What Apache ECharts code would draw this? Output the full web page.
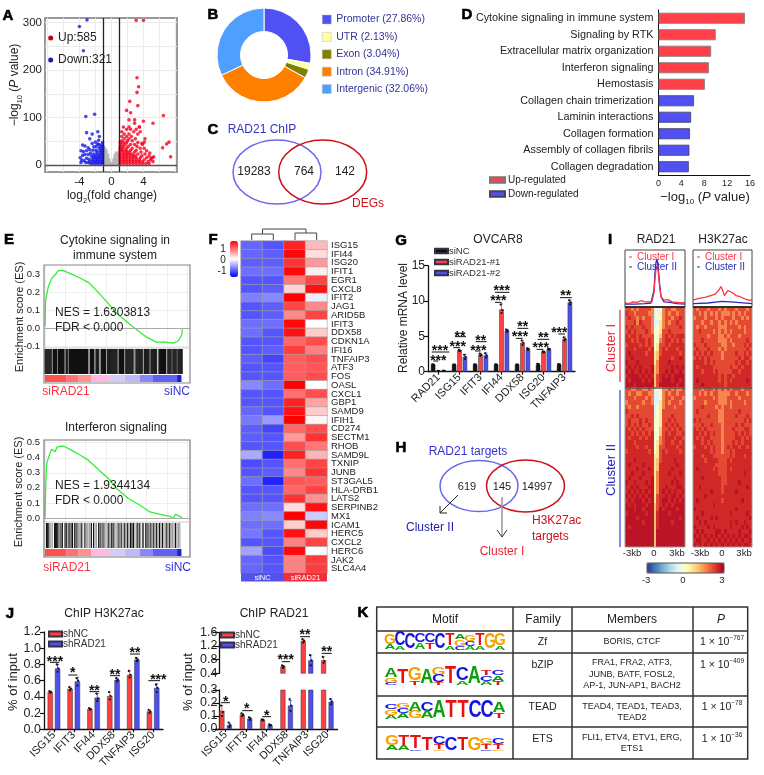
<!DOCTYPE html>
<html><head><meta charset="utf-8">
<style>html,body{margin:0;padding:0;background:#fff}#c{width:764px;height:775px}</style>
<script src="https://cdn.jsdelivr.net/npm/echarts@6/dist/echarts.min.js"></script></head>
<body><div id="c"></div>
<script>
// ---------- A volcano (rows: [y, [x...]]) ----------
const upOutliers=[[3.1,305],[4,305],[3.2,184],[3.4,165],[3.2,153],[2.3,134],[3.3,125],[1.9,115],[6.5,104],[2.4,110],[2.2,95],[2.9,95],[2.9,88],[4,92],[3.5,80],[5.2,88],[7.2,48],[6.9,44],[6.4,36],[7.4,17],[5.3,17],[5,14],[4.8,25],[4.1,48],[3.8,45],[4.4,30]];
const upRows=[[3,[1.1,1.5,1.9,2.3,2.7,3.1,3.5,3.9,4.3,4.7]],[7,[1.1,1.5,1.9,2.3,2.7,3.1,3.5,3.9,4.6,5.2]],[11,[1.1,1.5,1.9,2.3,2.7,3.1,3.5,4.1,4.9]],[15,[1.1,1.5,1.9,2.3,2.7,3.1,3.6,4.4,5.1]],[19,[1.1,1.5,1.9,2.3,2.7,3,3.8,4.7]],[23,[1.1,1.5,1.9,2.3,2.6,3.3,4.2]],[27,[1.1,1.5,1.9,2.2,2.9,3.7]],[31,[1.1,1.4,1.8,2.4,3.1]],[35,[1.1,1.4,1.9,2.6,3.6,4.1]],[39,[1.1,1.5,2.1,3.2]],[43,[1.2,1.7,2.4,2.9,3.9]],[47,[1.1,1.5,1.9,3.3]],[51,[1.3,2,2.6]],[55,[1.6,2.2,3,4.2]],[60,[1.3,1.9,2.5]],[65,[1.6,2.2,3.3]],[70,[1.3,2.8,3.6]],[75,[1.9,2.4,3.1]],[80,[1.5,2.2,3.5]]];
const downOutliers=[[-3.05,306],[-4,292],[-3.5,241],[-2.1,107],[-3.2,102],[-1.7,70],[-3.1,68],[-2.4,65],[-1.5,60],[-2.7,55],[-1.6,52],[-3.6,42],[-3.3,40],[-2.9,36],[-2.4,45],[-2,48],[-1.7,44],[-2.2,38],[-3.8,30],[-3.5,28],[-3.1,30],[-2.7,32],[-3.3,22],[-3.6,20],[-3.9,15],[-2.9,22],[-2.6,25],[-3.7,10],[-3.4,9],[-3.8,5],[-3.1,14],[-2.8,12],[-3.2,5],[-2.9,5]];
const downRows=[[3,[-1.1,-1.4,-1.7,-2,-2.3,-2.6]],[7,[-1.1,-1.4,-1.7,-2,-2.3,-2.7]],[11,[-1.1,-1.4,-1.7,-2,-2.4]],[15,[-1.1,-1.4,-1.7,-2,-2.3]],[19,[-1.1,-1.4,-1.7,-2.1,-2.5]],[23,[-1.1,-1.4,-1.8,-2.2]],[27,[-1.1,-1.4,-1.8]],[31,[-1.1,-1.4,-1.9,-2.3]],[35,[-1.1,-1.5]],[39,[-1.1,-1.4,-1.9]],[43,[-1.2,-1.6]],[47,[-1.1]]];
const nsRows=[[3,[-1,-.85,-.7,-.55,-.4,-.25,-.1,.1,.25,.4,.55,.7,.85,1]],[7,[-1,-.8,-.6,-.45,-.3,.3,.45,.6,.8,1]],[11,[-1,-.8,-.6,-.45,-.3,.3,.45,.6,.8,1]],[15,[-1,-.8,-.6,-.45,.45,.6,.8,1]],[20,[-1,-.8,-.6,-.45,.45,.6,.8,1]],[25,[-1,-.8,-.6,.6,.8]],[30,[-1,-.8,-.65]],[35,[-1.05,-.85]],[40,[-1]]];
// ---------- B / C ----------
const pieNames=['Promoter (27.86%)','UTR (2.13%)','Exon (3.04%)','Intron (34.91%)','Intergenic (32.06%)'];
const pieValues=[27.86,2.13,3.04,34.91,32.06];
const pieColors=['#5050f5','#ffffa6','#808000','#ff8000','#4f9fff'];
// ---------- D ----------
const pathways=['Cytokine signaling in immune system','Signaling by RTK','Extracellular matrix organization','Interferon signaling','Hemostasis','Collagen chain trimerization','Laminin interactions','Collagen formation','Assembly of collagen fibrils','Collagen degradation'];
const upPath=[15.1,10,9.2,8.8,8.1,null,null,null,null,null];
const downPath=[null,null,null,null,null,6.2,5.7,5.5,5.4,5.3];
// ---------- E ----------
const gsea1=[[0,.01],[.46,.157],[2.3,.23],[4.6,.276],[6.9,.295],[9.2,.319],[12.6,.319],[17.2,.304],[23,.282],[29.9,.254],[35.6,.208],[42.5,.147],[49.4,.083],[57.5,.028],[63.2,-.009],[70.1,-.05],[77,-.079],[81.6,-.076],[88.5,-.083],[92,-.07],[94.3,-.037],[94.7,-.005]];
const gsea2=[[0,0],[.46,.207],[1.15,.362],[3.4,.429],[4.6,.456],[6.9,.44],[8.5,.473],[12.6,.478],[17.2,.456],[24.1,.418],[29.9,.384],[36.8,.322],[43.7,.262],[49.4,.196],[57.5,.129],[65.5,.084],[72.4,.04],[79.3,.024],[86.2,.011],[88.5,-.004],[90,.024],[93,.011],[94.7,-.004]];
const rug1Black=[0,.7,1.4,2.1,2.8,3.5,4.2,5.8,6.5,7.2,7.9,9.4,10.1,10.8,11.5,12.2,12.9,14.6,15.3,16.8,17.5,18.2,18.9,19.6,20.3,21,21.7,22.4,23.1,23.8,24.5,25.2,25.9,26.6,27.3,28,28.7,29.4,31.4,32.1,32.8,33.5,35.3,36,36.7,38.8,39.5,40.2,40.9,41.6,43.3,44,44.7,45.4,46.1,46.8,47.5,48.2,48.9,49.6,51.3,52,52.7,53.4,54.1,55.8,56.5,57.2,57.9,58.6,59.3,60,60.7,62.8,63.5,64.2,64.9,65.6,66.3,67,68.8,69.5,70.2,70.9,71.6,73.2,73.9,74.6,75.3,76,76.7,78.8,79.5,80.2,80.9,81.6,82.3,83,84.8,85.5,86.2,86.9,88.3,89,89.7,90.4,91.8,92.5,93.2,93.9,94.5];
const rug1Grey=[4.9,8.6,13.6,16,30.4,34.4,37.7,42.4,50.4,55,61.8,68,72.4,78,84,87.6,91.1];
const rug2Black=[1,1.6,2.2,6.6,7.3,8,8.8,11,12,13.8,15,16.5,18,19,20.5,22,25,27.5,32,33.5,37,38,40,44,46,47,51,52.5,55,57,59,60,61,63.5,65,67.5,69.5,71,73,75,77,79,81,84,86,90];
const rug2Grey=[3,4,5,9.5,10,14.5,17,21,23,24,26,28.5,29.5,30.5,31,34.5,35.5,39,41,42,43,45,48,49,50,53,54,56,58,62,64,66,68,70,72,74,76,78,80,82,83,85,87,88,89,91,92,93];
const stripWidths=[14.9,8,9.2,12.6,10.3,10.3,9.2,16.6,3];
const stripColors=['#ff5050','#ff7078','#ff9090','#ffb8e0','#d4ccf8','#c0b8f8','#8888f8','#6060f0','#2020d0'];
// ---------- F ----------
const genes=['ISG15','IFI44','ISG20','IFIT1','EGR1','CXCL8','IFIT2','JAG1','ARID5B','IFIT3','DDX58','CDKN1A','IFI16','TNFAIP3','ATF3','FOS','OASL','CXCL1','GBP1','SAMD9','IFIH1','CD274','SECTM1','RHOB','SAMD9L','TXNIP','JUNB','ST3GAL5','HLA-DRB1','LATS2','SERPINB2','MX1','ICAM1','HERC5','CXCL2','HERC6','JAK2','SLC4A4'];
const colA=[-.9,-.9,-.95,-.85,-1,-1,-.75,-1,-1,-.85,-.85,-1,-1,-.95,-1,-1,-.7,-1,-1,-.9,-.8,-.95,-.95,-1,-.5,-1.05,-1,-.85,-1,-1,-.85,-.75,-.85,-.8,-1,-.55,-.9,-.9];
const colB=[-1,-.95,-.95,-.85,-1,-.95,-.7,-.95,-.95,-.85,-1,-1,-.95,-1.1,-1,-1,-.85,-1,-1,-1,-.6,-1.1,-1,-1,-1.3,-1,-.95,-1.3,-1,-1,-.85,-.7,-.85,-1,-1,-1.05,-1,-1];
const colC=[1.3,1.45,1.2,1.45,.8,.25,1.5,1.1,.7,1.45,1.4,.9,1.15,.95,.95,.95,1.5,.85,1.3,1.4,1.5,.9,.6,1.05,1.3,.85,.7,1,.9,1.2,.2,1.5,.3,1.4,.75,1.45,.75,.75];
const colD=[.4,.2,.6,.1,1.1,1.4,-.1,.7,1.1,0,.3,1.05,.75,1.05,1,1.05,0,1.05,.55,.3,.05,1.05,1.2,.8,.45,1.1,1.2,.95,1.1,.65,1.4,-.3,1.45,.3,1.1,0,1.15,1.15];
// ---------- G ----------
const gGenes=['RAD21','ISG15','IFIT3','IFI44','DDX58','ISG20','TNFAIP3'];
const gNC=[1,1,1,1,1,1,1], gNCe=[.05,.03,.04,.04,.03,.15,.08];
const gS1=[.1,3,2.4,8.8,4.1,2.8,4.6], gS1e=[.03,.1,.2,.8,.35,.1,.3];
const gS2=[.12,2.1,2.3,5.8,3.2,3.2,9.8], gS2e=[.03,.35,.35,.2,.15,.1,.35];
const gNCd=[[1.03,.98,.96],[1.02,1,.98],[1.03,1,.97],[1.03,1,.97],[1.02,1,.98],[1.12,.98,.88],[1.06,1,.94]];
const gS1d=[[.12,.1,.08],[3.08,3,2.92],[2.55,2.4,2.25],[9.5,8.7,8.3],[4.4,4.1,3.8],[2.88,2.8,2.72],[4.85,4.6,4.4]];
const gS2d=[[.14,.12,.1],[2.4,2.1,1.8],[2.6,2.3,2],[5.95,5.8,5.65],[3.3,3.2,3.08],[3.28,3.2,3.12],[10.1,9.8,9.5]];
// ---------- I ----------
const heatLevels=[-3,-1.5,-.6,-.15,.5,1,1.6,2.15,2.5,2.75];
const rad21Rows=["776767777632367766777","877677776623267677677","787767677623367767787","777868777622467677877","878777877623467777787","787877787633477877777","878878777733578787888","887878878733678878787","788887878734778788888","888788887834787888788","898888878845788888878","889888888845888878898","988898888846888988888","898989888956888898989","989889898956889898898","899998989857898989999","989999898957899989989","999899999957999999899",
"776677667623266767667","767766776622367677677","777677767622367767776","677777677622467677767","767767777723467776777","877777777723477777777","778787777723477787777","787778787733477878777","787878778733478787877","878787877733577878787","887878787833578788778","878887878833678887887","888788888834678878878","888878878834778888788","788888887834787888878","888888888844788888888","888988888845788889888","898888988845888888988","888898889845888898888","889888988846888988898","898889888946888889888","988988898946888898988","889898889946889888998","898989898946898989889","989898989947889899898","898999898947899898989","989899989957898989999","999899899957989999899","899999989958999899999","999989999958999999989","999999899958999989999","989999999958999999999","999999999959999999999","999999999959999999999","999999999959999999999","999999999959999999999"];
const h3k27Rows=["767776777676777677767","776767676766676767677","677767776767776776767","777677677676767677777","767767777666777767677","778777767676767777677","777776777667677767777","777877777666767777787","877787777766776777878","787778777676777777787","878787877767777877878","787878777767777787887","888878787777777878878","878888877777787787888","888788878777778878888","888888888787887888888","898888888787878888898","888988888887888888888",
"777677767676767776777","776767677666677677767","677777767666777767777","777767777666767777677","777877776767767777777","787777777667777787777","777778777667777877787","878777777667777777878","777877877767777878777","878787777767778777887","887878787767777878787","878788777767777887878","888787877767778787888","788878787767878878878","888888787767787888888","888788877777787888788","888878888777878888888","888888887777888888888","898888878777878888888","888888888777888888988","888988888877888888888","888888888877888898888","889888888878888888898","888888988878888988888","888898888888888888888","898888888878888889888","888888898888888888888","988888888888888988888","888988888888898888898","898888989888888888889","889898888888898988988","988889898888898889898","898988889989888898889","989898989898989898998","899889898989898989889","989898989898989898998"];
const profRadRed=[[-3,.07],[-2.6,.06],[-2.2,.09],[-1.8,.08],[-1.4,.11],[-1,.09],[-.6,.09],[-.3,.1],[-.1,.25],[0,.5],[.1,.66],[.2,.72],[.3,.66],[.45,.38],[.6,.18],[.9,.12],[1.3,.13],[1.7,.09],[2.2,.08],[2.6,.07],[3,.08]];
const profRadBlue=[[-3,.05],[-2,.05],[-1,.06],[-.4,.07],[-.1,.3],[0,.6],[.1,.78],[.2,.84],[.3,.74],[.45,.42],[.6,.18],[.9,.09],[1.5,.08],[2.2,.06],[3,.05]];
const profAcRed=[[-3,.12],[-2.4,.15],[-1.8,.17],[-1.2,.2],[-.8,.22],[-.5,.27],[-.3,.32],[-.15,.36],[0,.3],[.2,.2],[.35,.2],[.55,.29],[.75,.3],[1,.25],[1.4,.2],[1.8,.18],[2.3,.14],[2.7,.12],[3,.12]];
const profAcBlue=[[-3,.06],[-1.5,.07],[-.5,.09],[0,.1],[.8,.09],[1.5,.08],[3,.06]];
// ---------- J ----------
const jGenes=['ISG15','IFIT3','IFI44','DDX58','TNFAIP3','ISG20'];
const j1NC=[.46,.5,.25,.41,.67,.22], j1NCe=[.01,.02,.01,.05,.05,.02];
const j1KD=[.75,.59,.39,.61,.86,.51], j1KDe=[.05,.05,.05,.02,.02,.05];
const j1NCd=[[.47,.46,.45],[.52,.5,.48],[.26,.25,.24],[.46,.41,.37],[.72,.67,.64],[.24,.22,.2]];
const j1KDd=[[.8,.75,.71],[.63,.6,.54],[.44,.38,.35],[.63,.61,.59],[.88,.86,.84],[.55,.51,.46]];
const j2NC=[.14,.11,.07,.6,1.35,.78], j2NCe=[.04,.01,.005,.03,.05,.1];
const j2KD=[.03,.08,.03,.18,.78,.21], j2KDe=[.015,.01,.005,.04,.15,.02];
const j2NCd=[[.18,.13,.1],[.12,.11,.1],[.075,.07,.065],[.63,.6,.56],[1.4,1.35,1.3],[.88,.76,.7]];
const j2KDd=[[.05,.03,.015],[.09,.08,.07],[.035,.03,.025],[.23,.18,.14],[.93,.78,.63],[.23,.21,.19]];
// ---------- K ----------
const logo1=['G6A3','C8A2','C9','C5A4','C5T4','C9','T7A2','A3G4C2','G4C3A2','T7A2','G9','G7A2'];
const logo2=['A5G3C1','T8','G7T2','A8','G4C4T1','T9','C7A2','A9','T3C3A2','C3A3T2'];
const logo3=['C3G3A2','G3C3A3','A5G4','C5A4','A9','T9','T9','C9','C9','A6T3'];
const logo4=['G6A3','T6A3','T8C1','T8','C5T3G1','C8','T8','G8','G4T3C1','C4T3G1'];
const tableRows=[['Zf',['BORIS, CTCF'],'767'],['bZIP',['FRA1, FRA2, ATF3,','JUNB, BATF, FOSL2,','AP-1, JUN-AP1, BACH2'],'409'],['TEAD',['TEAD4, TEAD1, TEAD3,','TEAD2'],'78'],['ETS',['FLI1, ETV4, ETV1, ERG,','ETS1'],'36']];

const FF='"Liberation Sans", Arial, sans-serif';
const RED='#ff4040', BLU='#4f4ff0', AXC='#111';
const grids=[],xAxes=[],yAxes=[],series=[],G=[];
function addGrid(x0,y0,x1,y1,xa,ya,extra){const i=grids.length;grids.push({left:x0,top:y0,width:x1-x0,height:y1-y0,...(extra||{})});xAxes.push({gridIndex:i,...xa});yAxes.push({gridIndex:i,...ya});return i;}
const hid=(o)=>({show:false,...o});
const T=(x,y,text,o={})=>({type:'text',x,y,rotation:o.rot||0,z:50,silent:true,style:{text,fontSize:o.fs||11,fontFamily:FF,fontWeight:o.w||'normal',fontStyle:o.it?'italic':'normal',fill:o.c||'#222',align:o.a||'center',verticalAlign:'middle',rich:o.rich,stroke:o.stroke,lineWidth:o.lw||0}});
const L=(x1,y1,x2,y2,c='#111',w=1)=>({type:'line',z:45,silent:true,shape:{x1,y1,x2,y2},style:{stroke:c,lineWidth:w}});
const E=(cx,cy,rx,ry,c)=>({type:'ellipse',z:45,silent:true,shape:{cx,cy,rx,ry},style:{fill:'transparent',stroke:c,lineWidth:1.5}});
const R=(x,y,w,h,fill,stroke,lw=1)=>({type:'rect',z:44,silent:true,shape:{x,y,width:w,height:h},style:{fill:fill||'transparent',stroke:stroke||null,lineWidth:lw}});
const PL=(pts,c,w=1)=>({type:'polyline',z:45,silent:true,shape:{points:pts},style:{fill:'transparent',stroke:c,lineWidth:w}});
const rowsToPts=r=>r.flatMap(([y,xs])=>xs.map(x=>[x,y]));
const mkRich=(fs)=>({n:{fontSize:fs,fontFamily:FF,fill:'#222',lineHeight:fs+5},s:{fontSize:fs*.62,fontFamily:FF,fill:'#222',lineHeight:fs*.8,verticalAlign:'bottom'},i:{fontSize:fs,fontFamily:FF,fontStyle:'italic',fill:'#222',lineHeight:fs+5}});

// panel letters
[['A',8,16],['B',213,15],['C',213,130],['D',467,15],['E',9,240],['F',213,240],['G',401,241],['H',401,448],['I',610,240],['J',10,614],['K',363,613]].forEach(p=>G.push(T(p[1],p[2],p[0],{fs:15,w:'bold',c:'#000',stroke:'#000',lw:.6})));

// ===== A =====
const gA=addGrid(45,18,177,172,
 {type:'value',min:-8.3,max:8.2,axisLine:{show:false},axisTick:{show:false,customValues:[-8,-6,-4,-2,0,2,4,6,8]},axisLabel:{customValues:[-4,0,4],fontSize:11.5,color:'#222',fontFamily:FF,margin:4},splitLine:{show:true,lineStyle:{color:'#ececec',width:1}}},
 {type:'value',min:-15,max:310,axisLine:{show:false},axisTick:{show:false,customValues:[0,50,100,150,200,250,300]},axisLabel:{customValues:[0,100,200,300],fontSize:11.5,color:'#222',fontFamily:FF,margin:3},splitLine:{show:true,lineStyle:{color:'#ececec',width:1}}},
 {show:true,borderColor:'#999',borderWidth:2,backgroundColor:'#fff'});
const vScatter=(data,color,name)=>({type:'scatter',name,xAxisIndex:gA,yAxisIndex:gA,data,symbolSize:3.6,itemStyle:{color},silent:true});
series.push(vScatter(rowsToPts(nsRows),'#b5b5b5','ns'));
series.push(vScatter(downOutliers.concat(rowsToPts(downRows)),'#1a1ae6','Down'));
series.push(vScatter(upOutliers.concat(rowsToPts(upRows)),'#f5001e','Up'));
series.push({type:'line',xAxisIndex:gA,yAxisIndex:gA,data:[],silent:true,markLine:{silent:true,symbol:'none',label:{show:false},animation:false,data:[{xAxis:-1,lineStyle:{color:'#222',width:1.3,type:'solid'}},{xAxis:1,lineStyle:{color:'#222',width:1.3,type:'solid'}},{yAxis:0,lineStyle:{color:'#555',width:1.3,type:'solid'}}]}});
G.push({type:'circle',z:50,silent:true,shape:{cx:50.7,cy:38,r:2.5},style:{fill:'#c00010'}},{type:'circle',z:50,silent:true,shape:{cx:50.7,cy:60,r:2.5},style:{fill:'#1a1ab0'}});
G.push(T(58,38,'Up:585',{fs:12,a:'left'}),T(58,60,'Down:321',{fs:12,a:'left'}));
G.push(T(112,196,'{n|log}{s|2}{n|(fold change)}',{fs:12,rich:mkRich(12)}));
G.push(T(15,85,'{n|−log}{s|10}{n| (}{i|P}{n| value)}',{fs:12,rot:Math.PI/2,rich:mkRich(12)}));

// ===== B pie =====
series.push({type:'pie',center:[264,55],radius:[23.5,47],startAngle:90,clockwise:true,silent:true,label:{show:false},labelLine:{show:false},itemStyle:{borderColor:'#fff',borderWidth:1},data:pieNames.map((n,i)=>({name:n,value:pieValues[i],itemStyle:{color:pieColors[i]}}))});

// ===== C venn =====
G.push(E(277,172,44,32,'#6a6af0'),E(322.7,172,44,32,'#cc1018'));
G.push(T(262,130,'RAD21 ChIP',{fs:12,c:'#3333cc'}),T(368,204,'DEGs',{fs:12,c:'#cc1018'}),T(254,172,'19283',{fs:12}),T(304,172,'764',{fs:12}),T(345,172,'142',{fs:12}));

// ===== D =====
const gD=addGrid(658.5,10,750,175,
 {type:'value',min:0,max:16,interval:4,axisLine:{show:true,lineStyle:{color:AXC}},axisTick:{length:3,lineStyle:{color:AXC}},axisLabel:{fontSize:9,color:'#222',fontFamily:FF,margin:4},splitLine:{show:false}},
 {type:'category',inverse:true,data:pathways,axisLine:{show:true,lineStyle:{color:AXC}},axisTick:{length:3,alignWithLabel:true,lineStyle:{color:AXC}},axisLabel:{fontSize:10.8,color:'#222',fontFamily:FF,interval:0,margin:5}});
series.push({type:'bar',name:'Up-regulated',xAxisIndex:gD,yAxisIndex:gD,stack:'d',barWidth:11,data:upPath,silent:true,itemStyle:{color:'#ff4048',borderColor:'#777',borderWidth:.8}});
series.push({type:'bar',name:'Down-regulated',xAxisIndex:gD,yAxisIndex:gD,stack:'d',barWidth:11,data:downPath,silent:true,itemStyle:{color:'#5050f5',borderColor:'#445',borderWidth:.8}});
G.push(T(705,197,'{n|−log}{s|10}{n| (}{i|P}{n| value)}',{fs:13,rich:mkRich(13)}));

// ===== E =====
function gsea(yTop,yCurveBot,yMin,yMax,ticks,curve,rugBlack,rugGrey,rugTop,rugBot,stripTop,stripBot,rugW){
 const gc=addGrid(45,yTop,190,yCurveBot,
  {type:'value',min:0,max:100,axisLine:{show:false},axisTick:{show:false,customValues:[0,14,28,42,56,70,84,98]},axisLabel:{show:false},splitLine:{show:true,lineStyle:{color:'#eeeeee'}}},
  {type:'value',min:yMin,max:yMax,axisLine:{show:false},axisTick:{show:false,customValues:ticks},axisLabel:{customValues:ticks,fontSize:9.5,color:'#222',fontFamily:FF,margin:5,formatter:v=>v.toFixed(1)},splitLine:{show:true,lineStyle:{color:'#eeeeee'}}});
 series.push({type:'line',xAxisIndex:gc,yAxisIndex:gc,data:curve,showSymbol:false,silent:true,lineStyle:{color:'#33ee33',width:1.3},markLine:{silent:true,symbol:'none',label:{show:false},animation:false,lineStyle:{color:'#aaa',width:1,type:'solid'},data:[{yAxis:0}]}});
 const gr=addGrid(45,rugTop,190,rugBot,hid({type:'value',min:0,max:100}),hid({type:'value',min:0,max:1}));
 const h=rugBot-rugTop;
 series.push({type:'scatter',xAxisIndex:gr,yAxisIndex:gr,symbol:'rect',symbolSize:[rugW,h],silent:true,data:rugGrey.map(x=>[x,.5]),itemStyle:{color:'#999',opacity:1}});
 series.push({type:'scatter',xAxisIndex:gr,yAxisIndex:gr,symbol:'rect',symbolSize:[rugW,h],silent:true,data:rugBlack.map(x=>[x,.5]),itemStyle:{color:'#111',opacity:1}});
 const gs=addGrid(45,stripTop,190,stripBot,hid({type:'value',min:0,max:100}),hid({type:'category',data:['s']}));
 stripWidths.forEach((w,i)=>series.push({type:'bar',xAxisIndex:gs,yAxisIndex:gs,stack:'s'+gs,barWidth:'100%',silent:true,data:[w],itemStyle:{color:stripColors[i]}}));
}
gsea(265,348,-.11,.35,[-.1,0,.1,.2,.3],gsea1,rug1Black,rug1Grey,349,374,375,382,1.4);
gsea(440,522,-.027,.518,[0,.1,.2,.3,.4,.5],gsea2,rug2Black,rug2Grey,523,548,549,556,1.1);
G.push(R(44,265,146,118,null,'#888',1.2),R(44,440,146,117,null,'#777',1.2),L(45,348,190,348,'#ccc',1),L(45,522,190,522,'#ccc',1));
G.push(T(115,241,'Cytokine signaling in',{fs:12}),T(115,256,'immune system',{fs:12}),T(116,428,'Interferon signaling',{fs:12}));
G.push(T(20,317,'Enrichment score (ES)',{fs:11,rot:Math.PI/2}),T(19,492,'Enrichment score (ES)',{fs:11,rot:Math.PI/2}));
G.push(T(55,313,'NES = 1.6303813',{fs:12,a:'left'}),T(55,328,'FDR < 0.000',{fs:12,a:'left'}),T(55,486,'NES = 1.9344134',{fs:12,a:'left'}),T(55,501,'FDR < 0.000',{fs:12,a:'left'}));
G.push(T(66,392,'siRAD21',{fs:12,c:'#ff3344'}),T(177,392,'siNC',{fs:12,c:'#3333dd'}),T(67,568,'siRAD21',{fs:12,c:'#ff3344'}),T(178,568,'siNC',{fs:12,c:'#3333dd'}));

// ===== F =====
const heatCols=[colA,colB,colC,colD];
const gF=addGrid(241,241,327,573,
 hid({type:'category',data:['c1','c2','c3','c4']}),
 {type:'category',inverse:true,position:'right',data:genes,axisLine:{show:false},axisTick:{show:false},axisLabel:{fontSize:9.5,color:'#222',fontFamily:FF,interval:0,margin:4},splitLine:{show:false}});
const fIndex=series.length;
series.push({type:'heatmap',xAxisIndex:gF,yAxisIndex:gF,silent:true,data:heatCols.flatMap((c,j)=>c.map((v,i)=>[j,i,v])),itemStyle:{borderColor:'#a0a0a0',borderWidth:.6}});
G.push(R(241,573,43,8.5,'#5252ee'),R(284,573,43,8.5,'#ee3040'),T(262.5,577.5,'siNC',{fs:7.5,c:'#fff'}),T(305.5,577.5,'siRAD21',{fs:7.5,c:'#fff'}));
const dc=[251.7,273.3,295,316.7];
G.push(PL([[dc[0],240],[dc[0],234],[dc[1],234],[dc[1],240]],'#444'),PL([[dc[2],240],[dc[2],233],[dc[3],233],[dc[3],240]],'#444'),PL([[262.5,234],[262.5,229],[306,229],[306,233]],'#444'));
G.push(T(223,249,'1',{fs:10}),T(223,260,'0',{fs:10}),T(222,271,'-1',{fs:10}));

// ===== bars helper =====
function errSeries(gi,vals,errs,dots,off,color,keep){
 return {type:'custom',xAxisIndex:gi,yAxisIndex:gi,silent:true,z:5,clip:true,encode:{x:0,y:1},
  data:vals.map((v,i)=>keep(v)?[i,v,errs[i],dots[i][0],dots[i][1],dots[i][2]]:null).filter(Boolean),
  renderItem:(p,api)=>{const i=api.value(0),v=api.value(1),e=api.value(2);
   const cx=api.coord([i,v])[0]+off;
   const yh=api.coord([i,v+e])[1],yl=api.coord([i,v-e])[1];
   const kids=[{type:'line',shape:{x1:cx,y1:yh,x2:cx,y2:yl},style:{stroke:color,lineWidth:1}},{type:'line',shape:{x1:cx-1.5,y1:yh,x2:cx+1.5,y2:yh},style:{stroke:color,lineWidth:1}}];
   [3,4,5].forEach((k,idx)=>{const yy=api.coord([i,api.value(k)])[1];kids.push({type:'circle',shape:{cx:cx+[-.8,.8,0][idx],cy:yy,r:1.1},style:{fill:'#111'}});});
   return {type:'group',children:kids};}};
}
const all=()=>true;
const axY=(o)=>({type:'value',axisLine:{show:true,lineStyle:{color:AXC,width:1.3}},axisTick:{show:true,length:4,lineStyle:{color:AXC,width:1.2}},axisLabel:{fontSize:12,color:'#222',fontFamily:FF,margin:3},splitLine:{show:false},...o});
const axX=(cats,o)=>({type:'category',data:cats,axisLine:{show:true,onZero:false,lineStyle:{color:AXC,width:1.3}},axisTick:{show:true,length:3,alignWithLabel:true,lineStyle:{color:AXC,width:1.2}},axisLabel:{fontSize:11,color:'#222',fontFamily:FF,rotate:45,interval:0,margin:4},...o});
const barS=(gi,name,data,color,w,gap)=>({type:'bar',name,xAxisIndex:gi,yAxisIndex:gi,data,barWidth:w,barGap:gap,silent:true,clip:true,itemStyle:{color,borderColor:'#334',borderWidth:.5}});

// ===== G =====
const gG=addGrid(428,265.7,575,371.7,axX(gGenes,{}),axY({min:0,max:15,interval:5}));
series.push(barS(gG,'siNC',gNC,'#111',4.5,'20%'),barS(gG,'siRAD21-#1',gS1,RED,4.5,'20%'),barS(gG,'siRAD21-#2',gS2,BLU,4.5,'20%'));
series.push(errSeries(gG,gNC,gNCe,gNCd,-5.4,'#111',all),errSeries(gG,gS1,gS1e,gS1d,0,'#ff6060',all),errSeries(gG,gS2,gS2e,gS2d,5.4,'#5555dd',all));
G.push(T(498,240,'OVCAR8',{fs:12}),T(404,318,'Relative mRNA level',{fs:12,rot:Math.PI/2}));
function sig(ox,oy,stars,xc,yt,x0,x1,yl){G.push(T(ox+xc/3,oy+yt/3+3.5,stars,{fs:14,w:'bold',c:'#111'}),L(ox+x0/3,oy+yl/3,ox+x1/3,oy+yl/3,'#111',1));}
[['***',145,398,130,145,408],['***',150,368,125,178,381],['***',203,356,190,210,368],['**',210,325,195,228,335],['***',265,368,255,272,378],['**',272,337,257,290,350],['***',325,218,315,335,232],['***',335,188,315,358,202],['***',390,327,378,398,340],['**',398,297,382,415,310],['***',452,360,440,460,373],['**',460,330,443,478,343],['***',508,315,505,525,327],['**',527,204,510,545,218]].forEach(a=>sig(390,225,a[0],a[1],a[2],a[3],a[4],a[5]));

// ===== H =====
G.push(E(479,486,39,25.5,'#6a6af0'),E(525.5,486,39,26,'#cc1018'));
G.push(T(468,452,'RAD21 targets',{fs:12,c:'#3333cc'}),T(467,487,'619',{fs:11}),T(502,487,'145',{fs:11}),T(537,487,'14997',{fs:11}));
G.push(L(458,495,440,513,'#222',1),PL([[440,506],[440,513],[447,513]],'#222',1));
G.push(L(502,497,502,536,'#999',1.5),PL([[497,530],[502,537],[507,530]],'#333',1));
G.push(T(430,528,'Cluster II',{fs:12,c:'#2222aa'}),T(502,552,'Cluster I',{fs:12,c:'#ee2233'}),T(532,521,'H3K27ac',{fs:12,c:'#cc1018',a:'left'}),T(532,537,'targets',{fs:12,c:'#cc1018',a:'left'}));

// ===== I =====
const noAx=(o)=>hid({type:'value',...o});
const gP1=addGrid(625,250,685,307,noAx({min:-3,max:3}),noAx({min:0,max:1}));
const gP2=addGrid(693,250,752,307,noAx({min:-3,max:3}),noAx({min:0,max:1}));
const prof=(g,d,c)=>({type:'line',xAxisIndex:g,yAxisIndex:g,data:d,showSymbol:false,silent:true,lineStyle:{color:c,width:1.3}});
series.push(prof(gP1,profRadBlue,'#2a2ab8'),prof(gP1,profRadRed,'#ff3048'),prof(gP2,profAcBlue,'#2a2ab8'),prof(gP2,profAcRed,'#ff3048'));
G.push(R(625,250,60,57,null,'#444',1),R(693,250,59,57,null,'#444',1),L(625,307,685,307,'#111',1.3),L(693,307,752,307,'#111',1.3));
const ids=n=>Array.from({length:n},(_,i)=>String(i));
const heatData=rows=>rows.flatMap((r,i)=>[...r].map((ch,j)=>[j,i,heatLevels[+ch]]));
const gH1=addGrid(625,307,685,547,hid({type:'category',data:ids(21)}),hid({type:'category',inverse:true,data:ids(54)}));
const gH2=addGrid(693,307,752,547,hid({type:'category',data:ids(21)}),hid({type:'category',inverse:true,data:ids(54)}));
const iIndex=series.length;
const cellSeries=(g,rows)=>({type:'custom',xAxisIndex:g,yAxisIndex:g,silent:true,encode:{x:0,y:1},data:heatData(rows),
 renderItem:(p,api)=>{const c=api.coord([api.value(0),api.value(1)]),s=api.size([1,1]);
  const x0=Math.round(c[0]-s[0]/2),x1=Math.round(c[0]+s[0]/2),y0=Math.round(c[1]-s[1]/2),y1=Math.round(c[1]+s[1]/2);
  return {type:'rect',shape:{x:x0,y:y0,width:x1-x0,height:y1-y0},style:{fill:api.visual('color')}};}});
series.push(cellSeries(gH1,rad21Rows),cellSeries(gH2,h3k27Rows));
G.push(L(625,388,685,388,'#555',1.5),L(693,388,752,388,'#555',1.5),R(625,307,60,240,null,'#999',1),R(693,307,59,240,null,'#999',1));
G.push(T(656,240,'RAD21',{fs:12}),T(723,240,'H3K27ac',{fs:12}));
G.push(L(629,257,632,257,'#ff3048'),T(637,257,'Cluster I',{fs:10,a:'left',c:'#ff3048'}),L(629,267,632,267,'#2a2ab8'),T(637,267,'Cluster II',{fs:10,a:'left',c:'#2a2ab8'}));
G.push(L(697,257,700,257,'#ff3048'),T(705,257,'Cluster I',{fs:10,a:'left',c:'#ff3048'}),L(697,267,700,267,'#2a2ab8'),T(705,267,'Cluster II',{fs:10,a:'left',c:'#2a2ab8'}));
G.push(T(611,348,'Cluster I',{fs:13,rot:Math.PI/2,c:'#ee2233'}),L(620,310,620,382,'#ee2233',1.2),T(611,470,'Cluster II',{fs:13,rot:Math.PI/2,c:'#2222bb'}),L(620,390,620,547,'#2244dd',1.2));
[['-3kb',632],['0',654],['3kb',677],['-3kb',700],['0',722],['3kb',744]].forEach(a=>G.push(T(a[1],553,a[0],{fs:9.5})));
[['-3',646],['0',683],['3',722]].forEach(a=>G.push(T(a[1],580,a[0],{fs:9.5})));
G.push(R(647,563,77,10,null,'#555',1));

// ===== J left =====
const gJ=addGrid(44,632,163,729.3,axX(jGenes,{}),axY({min:0,max:1.2,interval:.2,axisLabel:{fontSize:12.5,color:'#222',fontFamily:FF,margin:3,formatter:v=>v.toFixed(1)}}));
series.push(barS(gJ,'shNC',j1NC,RED,5.3,'38%'),barS(gJ,'shRAD21',j1KD,BLU,5.3,'38%'));
series.push(errSeries(gJ,j1NC,j1NCe,j1NCd,-3.65,'#ff6060',all),errSeries(gJ,j1KD,j1KDe,j1KDd,3.65,'#5555dd',all));
G.push(T(104,614,'ChIP H3K27ac',{fs:12}),T(13,682,'% of input',{fs:13,rot:Math.PI/2}));
[['***',165,160,150,178,172],['*',218,195,205,232,210],['**',283,247,268,298,260],['**',345,200,330,360,212],['**',405,135,390,420,147],['***',475,215,445,480,227]].forEach(a=>sig(0,605,a[0],a[1],a[2],a[3],a[4],a[5]));

// ===== J right (broken axis) =====
const yOff=-4;
const gJ2u=addGrid(215.5,632.3,337.5,673.3,hid(axX(jGenes,{})),axY({min:.4,max:1.6,interval:.4,offset:yOff,axisTick:{show:true,length:7,lineStyle:{color:AXC,width:1.2}},axisLabel:{fontSize:12.5,color:'#222',fontFamily:FF,margin:2,formatter:v=>v.toFixed(1)}}));
const gJ2l=addGrid(215.5,690,337.5,729,axX(jGenes,{}),axY({min:0,max:.3,interval:.1,offset:yOff,axisTick:{show:true,length:7,lineStyle:{color:AXC,width:1.2}},axisLabel:{fontSize:12.5,color:'#222',fontFamily:FF,margin:2,formatter:v=>v.toFixed(1)}}));
const above=v=>v>=.4?v:null, below=v=>v<=.3;
series.push(barS(gJ2u,'shNC',j2NC.map(above),RED,5,'50%'),barS(gJ2u,'shRAD21',j2KD.map(above),BLU,5,'50%'));
series.push(barS(gJ2l,'shNC',j2NC,RED,5,'50%'),barS(gJ2l,'shRAD21',j2KD,BLU,5,'50%'));
series.push(errSeries(gJ2u,j2NC,j2NCe,j2NCd,-3.75,'#ff6060',v=>v>=.4),errSeries(gJ2u,j2KD,j2KDe,j2KDd,3.75,'#5555dd',v=>v>=.4));
series.push(errSeries(gJ2l,j2NC,j2NCe,j2NCd,-3.75,'#ff6060',below),errSeries(gJ2l,j2KD,j2KDe,j2KDd,3.75,'#5555dd',below));
G.push(T(274,614,'ChIP RAD21',{fs:12}),T(188,682,'% of input',{fs:13,rot:Math.PI/2}));
[['*',122,280,108,135,293],['*',185,303,172,203,317],['*',245,322,232,258,335],['***',302,156,290,315,170],['**',360,80,345,375,95],['**',425,130,410,440,145]].forEach(a=>sig(185,605,a[0],a[1],a[2],a[3],a[4],a[5]));

// ===== K table =====
G.push(R(376.7,607,371,152,null,'#333',1.5));
[513,572,693].forEach(x=>G.push(L(x,607,x,759,'#333',1.5)));
[631,653,696,727].forEach(y=>G.push(L(376.7,y,747.7,y,'#333',1.5)));
G.push(T(445,619.5,'Motif',{fs:12}),T(543,619.5,'Family',{fs:12}),T(632,619.5,'Members',{fs:12}),T(721,619.5,'P',{fs:12,it:true}));
const famY=[642,665,707,739];
const memY=[[642],[663,674.5,686],[707,718],[738,748.5]];
const supRich={n:{fontSize:10.5,fontFamily:FF,fill:'#222',lineHeight:14},u:{fontSize:6.5,fontFamily:FF,fill:'#222',lineHeight:8,verticalAlign:'top'}};
tableRows.forEach((r,i)=>{G.push(T(542.5,famY[i],r[0],{fs:10.5}));r[1].forEach((m,k)=>G.push(T(632,memY[i][k],m,{fs:9})));G.push(T(722,famY[i],'{n|1 × 10}{u|−'+r[2]+'}',{fs:10.5,rich:supRich}));});
const baseC={A:'#0aa00a',C:'#1414e0',G:'#f5a000',T:'#e81010'};
function logo(spec,x0,x1,y0,y1){const cw=(x1-x0)/spec.length,H=y1-y0;spec.forEach((s,i)=>{const parts=s.match(/[ACGT]\d/g);const sum=parts.reduce((a,p)=>a+(+p[1]),0);let y=y1-H*sum/10;parts.forEach(p=>{const h=H*(+p[1])/10;G.push({type:'text',x:x0+cw*(i+.5),y:y+h/2,scaleX:cw/6.6,scaleY:h/7,z:50,silent:true,style:{text:p[0],fontSize:10,fontFamily:FF,fontWeight:'bold',fill:baseC[p[0]],align:'center',verticalAlign:'middle'}});y+=h;});});}
logo(logo1,385,505,633,650);logo(logo2,385,504,667,685);logo(logo3,385,505,701,719);logo(logo4,386,504,735,751);

const legendText=(c,fs)=>({color:c,fontSize:fs,fontFamily:FF});
const option={animation:false,backgroundColor:'#fff',grid:grids,xAxis:xAxes,yAxis:yAxes,series,graphic:{elements:G},
 tooltip:{show:false},
 legend:[
  {data:pieNames,orient:'vertical',left:322,top:14,itemWidth:9,itemHeight:9,itemGap:6.4,icon:'rect',selectedMode:false,textStyle:legendText('#333399',10.5),padding:0,itemStyle:{borderColor:'#bbb',borderWidth:.5}},
  {data:['Up-regulated','Down-regulated'],orient:'vertical',left:489,top:175,itemWidth:15,itemHeight:5.5,itemGap:4,icon:'rect',selectedMode:false,textStyle:{...legendText('#222',10),padding:[0,0,0,-2]},padding:0},
  {data:['siNC','siRAD21-#1','siRAD21-#2'],orient:'vertical',left:434,top:246,itemWidth:13,itemHeight:4.5,itemGap:1,icon:'rect',selectedMode:false,textStyle:{...legendText('#333',9.5),padding:[0,0,0,-4]},padding:0},
  {data:['shNC','shRAD21'],orient:'vertical',left:48,top:629,itemWidth:13,itemHeight:5,itemGap:0,icon:'rect',selectedMode:false,textStyle:{...legendText('#333',10),padding:[0,0,0,-4]},padding:0},
  {data:['shNC','shRAD21'],orient:'vertical',left:220,top:630,itemWidth:13,itemHeight:5,itemGap:0,icon:'rect',selectedMode:false,textStyle:{...legendText('#333',10),padding:[0,0,0,-4]},padding:0}
 ],
 visualMap:[
  {type:'continuous',seriesIndex:fIndex,min:-1.5,max:1.5,orient:'vertical',left:230,top:241,itemWidth:8,itemHeight:36,calculable:false,inRange:{color:['#0000ff','#ffffff','#ff0000']},padding:0,text:null,textStyle:{fontSize:1}},
  {type:'continuous',seriesIndex:[iIndex,iIndex+1],dimension:2,min:-3,max:3,orient:'horizontal',left:647,top:563,itemWidth:10,itemHeight:77,calculable:false,inRange:{color:['#313695','#4575b4','#74add1','#abd9e9','#e0f3f8','#ffffbf','#fee090','#fdae61','#f46d43','#d73027','#a50026']},padding:0,text:null}
 ]};
echarts.init(document.getElementById('c'),null,{renderer:'canvas'}).setOption(option);
</script></body></html>
